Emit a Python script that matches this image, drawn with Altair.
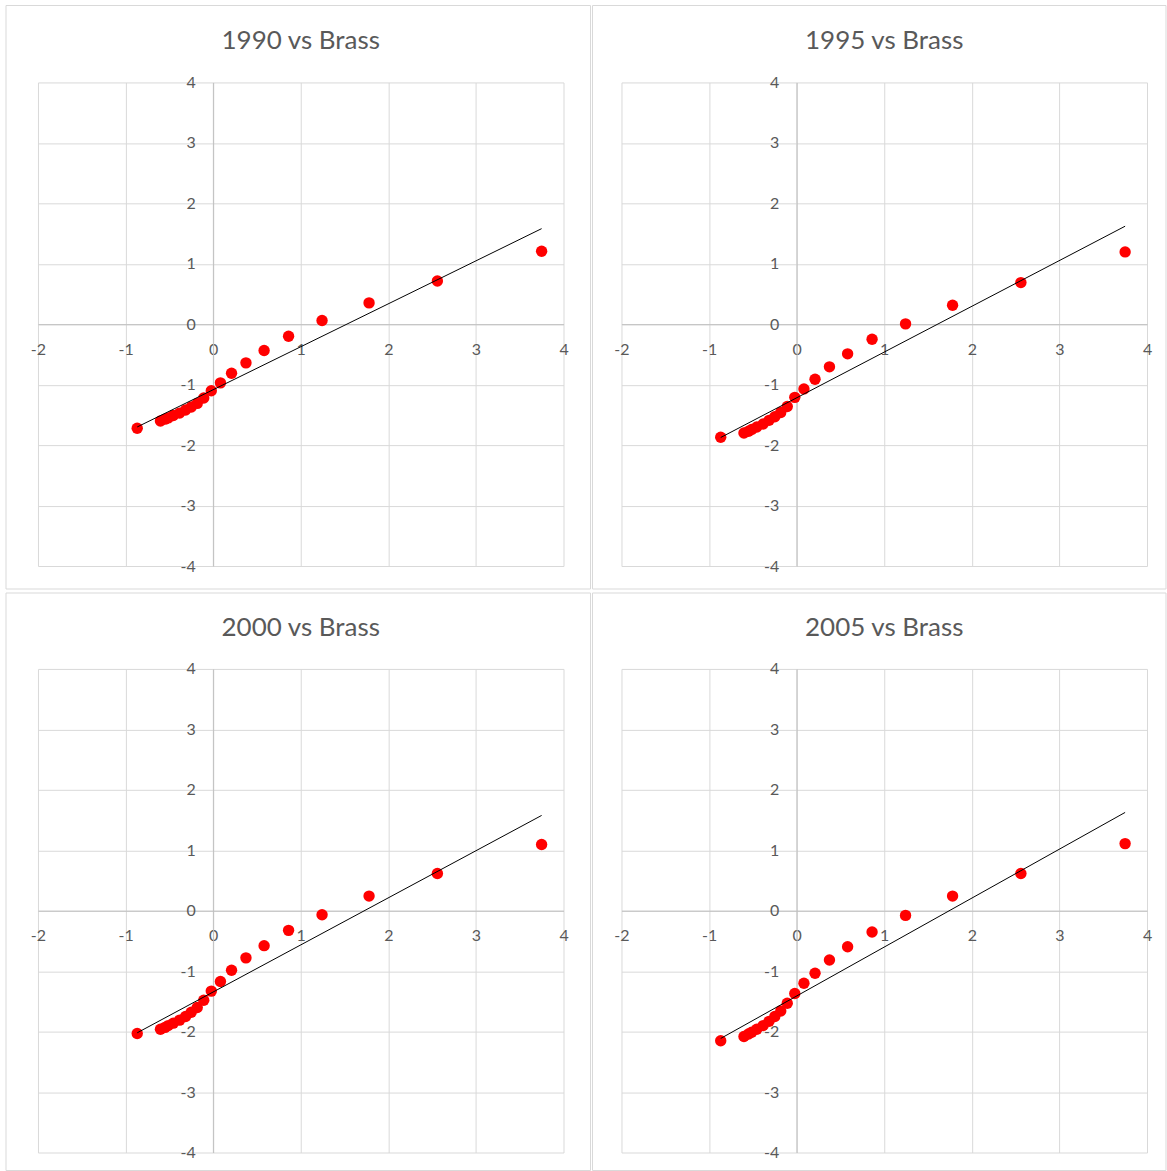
import altair as alt
import pandas as pd

# Brass general standard logits (x) and observed logits for each year (y)
brass_standard = [-0.8670, -0.6015, -0.5498, -0.5131, -0.4551, -0.3829, -0.3150,
                  -0.2496, -0.1816, -0.1073, -0.0212, 0.0832, 0.2100, 0.3746,
                  0.5818, 0.8611, 1.2433, 1.78, 2.56, 3.75]

logit_1990 = [-1.72, -1.60, -1.57, -1.55, -1.51, -1.47, -1.42, -1.37, -1.31, -1.22,
              -1.10, -0.97, -0.81, -0.639, -0.435, -0.198, 0.061, 0.353, 0.716, 1.207]
logit_1995 = [-1.87, -1.80, -1.77, -1.74, -1.70, -1.65, -1.59, -1.53, -1.46, -1.36,
              -1.21, -1.07, -0.91, -0.705, -0.49, -0.248, 0.006, 0.314, 0.689, 1.196]
logit_2000 = [-2.03, -1.96, -1.93, -1.90, -1.86, -1.81, -1.75, -1.68, -1.60, -1.48,
              -1.33, -1.17, -0.985, -0.78, -0.578, -0.325, -0.066, 0.242, 0.616, 1.095]
logit_2005 = [-2.15, -2.08, -2.04, -2.01, -1.96, -1.90, -1.83, -1.75, -1.66, -1.53,
              -1.37, -1.20, -1.035, -0.815, -0.595, -0.352, -0.077, 0.242, 0.616, 1.11]

panel_titles = ["1990 vs Brass", "1995 vs Brass", "2000 vs Brass", "2005 vs Brass"]
panel_series = [logit_1990, logit_1995, logit_2000, logit_2005]

x_ticks = [-2, -1, 0, 1, 2, 3, 4]
y_ticks = [-4, -3, -2, -1, 0, 1, 2, 3, 4]

W, H = 526, 484
TEXT = "#595959"
GRID = "#d9d9d9"
AXIS = "#bfbfbf"
FONT = "Lato"


def panel(title, ys, idx):
    df = pd.DataFrame({"brass": brass_standard, "logit": ys})
    x_enc = alt.X(
        "brass:Q",
        title=None,
        scale=alt.Scale(domain=[-2, 4], nice=False, zero=False),
        axis=alt.Axis(values=x_ticks, offset=-H / 2, ticks=False, tickSize=0,
                      labelPadding=17, labelFlush=False, labelOverlap=False,
                      labelFont=FONT, labelFontSize=16, labelColor=TEXT,
                      labelExpr="'' + datum.value",
                      domainColor=AXIS, gridColor=GRID),
    )
    y_enc = alt.Y(
        "logit:Q",
        title=None,
        scale=alt.Scale(domain=[-4, 4], nice=False, zero=False),
        axis=alt.Axis(values=y_ticks, offset=-W / 3, ticks=False, tickSize=0,
                      labelPadding=18, labelFlush=False, labelOverlap=False,
                      labelFont=FONT, labelFontSize=16, labelColor=TEXT,
                      labelExpr="'' + datum.value",
                      domainColor=AXIS, gridColor=GRID),
    )
    left_col = idx % 2 == 0
    top_row = idx < 2
    fx1, fx2 = (-32, 553) if left_col else (-29, 545)
    fy1, fy2 = (-77, 507) if top_row else (-76, 502)
    frame = alt.Chart(alt.Data(values=[{"f": 1}])).mark_rect(
        fillOpacity=0, stroke="#d9d9d9", strokeWidth=1
    ).encode(x=alt.value(fx1), x2=alt.value(fx2), y=alt.value(fy1), y2=alt.value(fy2))

    base = alt.Chart(df)
    pts = base.mark_circle(color="#ff0000", opacity=1, size=130).encode(x=x_enc, y=y_enc)
    trend = base.transform_regression("brass", "logit").mark_line(
        color="black", strokeWidth=1
    ).encode(x=x_enc, y=y_enc)
    return alt.layer(frame, pts, trend).properties(
        width=W, height=H,
        title=alt.TitleParams(text=title, font=FONT, fontSize=26, fontWeight="normal",
                              color=TEXT, anchor="middle", frame="group",
                              baseline="bottom", offset=-75),
    )


panels = [panel(t, s, i) for i, (t, s) in enumerate(zip(panel_titles, panel_series))]

chart = alt.concat(*panels, columns=2, spacing={"row": 103, "column": 58},
                   bounds="flush").properties(
    padding={"left": 5, "top": 4, "right": 0, "bottom": 0},
    background="white",
).configure_view(strokeWidth=0)

chart.save("out.html", embed_options={"renderer": "svg", "actions": False})
